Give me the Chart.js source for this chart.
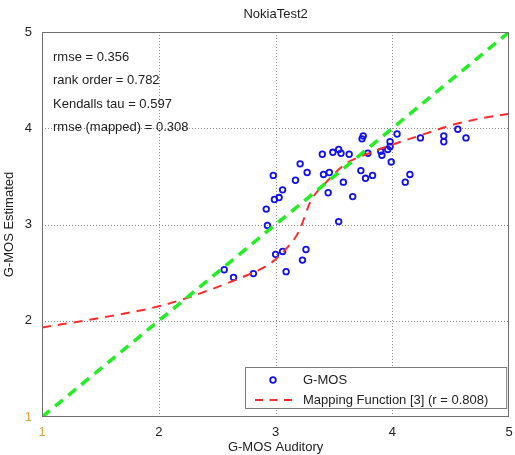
<!DOCTYPE html>
<html>
<head>
<meta charset="utf-8">
<script src="https://cdn.jsdelivr.net/npm/chart.js@4/dist/chart.umd.min.js"></script>
<style>
  html, body { margin: 0; padding: 0; background: #fff; }
  #wrap { width: 515px; height: 455px; }
</style>
</head>
<body>
<div id="wrap"><canvas id="c" width="515" height="455"></canvas></div>
<script>
// G-MOS auditory vs estimated scores
const gmosAuditory = [
  2.56, 2.64, 2.81, 3.00, 3.06, 3.09, 3.23, 3.26, 2.93, 2.92, 2.99, 3.03,
  3.06, 2.98, 3.17, 3.21, 3.27, 3.40, 3.49, 3.54, 3.56, 3.63, 3.41, 3.46,
  3.45, 3.58, 3.66, 3.54, 3.74, 3.75, 3.79, 3.73, 3.77, 3.83, 3.90, 3.91,
  3.96, 3.98, 3.98, 3.99, 4.04, 4.24, 4.44, 4.44, 4.56, 4.63, 4.11, 4.15
];
const gmosEstimated = [
  2.53, 2.45, 2.49, 2.69, 2.72, 2.51, 2.63, 2.74, 2.99, 3.16, 3.26, 3.28,
  3.36, 3.51, 3.46, 3.63, 3.54, 3.73, 3.75, 3.78, 3.74, 3.73, 3.52, 3.54,
  3.33, 3.44, 3.29, 3.03, 3.89, 3.92, 3.74, 3.56, 3.48, 3.51, 3.76, 3.72,
  3.78, 3.86, 3.81, 3.65, 3.94, 3.90, 3.92, 3.86, 3.99, 3.90, 3.44, 3.52
];

// Fitted mapping function, sampled along the auditory axis
const mapX = [1.0, 1.5, 2.0, 2.25, 2.5, 2.75, 2.96, 3.1, 3.2, 3.3, 3.45, 3.6, 3.8, 4.0, 4.25, 4.5, 4.75, 5.0];
const mapY = [1.93, 2.03, 2.15, 2.24, 2.35, 2.47, 2.60, 2.76, 2.93, 3.24, 3.46, 3.63, 3.74, 3.83, 3.93, 4.03, 4.10, 4.15];

// Identity reference line
const identityX = [1, 5];
const identityY = [1, 5];

const tickValues = [1, 2, 3, 4, 5];
const statLines = [
  'rmse = 0.356',
  'rank order = 0.782',
  'Kendalls tau = 0.597',
  'rmse (mapped) = 0.308'
];
const legendLabels = ['G-MOS', 'Mapping Function [3] (r = 0.808)'];
const chartTitle = 'NokiaTest2';

const FONT = 'Arial, "Liberation Sans", sans-serif';
const pts = (xs, ys) => xs.map((x, i) => ({ x, y: ys[i] }));

const framePlugin = {
  id: 'frame',
  beforeDatasetsDraw(chart) {
    const { ctx, chartArea: a, scales } = chart;
    ctx.save();
    ctx.strokeStyle = '#8a8a8a';
    ctx.lineWidth = 1;
    ctx.setLineDash([1, 2]);
    tickValues.forEach(v => {
      if (v === 1 || v === 5) return;
      const px = Math.round(scales.x.getPixelForValue(v)) + 0.5;
      ctx.beginPath(); ctx.moveTo(px, a.top); ctx.lineTo(px, a.bottom); ctx.stroke();
      const py = Math.round(scales.y.getPixelForValue(v)) + 0.5;
      ctx.beginPath(); ctx.moveTo(a.left, py); ctx.lineTo(a.right, py); ctx.stroke();
    });
    ctx.restore();
  },
  afterDatasetsDraw(chart) {
    const { ctx, chartArea: a } = chart;
    ctx.save();
    // axes box
    ctx.strokeStyle = '#6e6e6e';
    ctx.lineWidth = 1;
    ctx.strokeRect(Math.round(a.left) + 0.5, Math.round(a.top) + 0.5,
                   Math.round(a.right - a.left) - 1, Math.round(a.bottom - a.top) - 1);

    // title
    ctx.fillStyle = '#222';
    ctx.font = '13px ' + FONT;
    ctx.textAlign = 'center';
    ctx.textBaseline = 'middle';
    ctx.fillText(chartTitle, (a.left + a.right) / 2, 14);

    // statistics text
    ctx.textAlign = 'left';
    statLines.forEach((s, i) => {
      ctx.fillText(s, a.left + 11, a.top + 25 + i * 23.6);
    });

    // legend
    const lx = a.left + 203, ly = a.bottom - 50, lw = a.right - 3 - lx, lh = 41;
    ctx.fillStyle = '#fff';
    ctx.fillRect(lx, ly, lw, lh);
    ctx.strokeStyle = '#7a7a7a';
    ctx.strokeRect(lx + 0.5, ly + 0.5, lw, lh);
    ctx.strokeStyle = '#1010f0';
    ctx.lineWidth = 1.8;
    ctx.beginPath(); ctx.arc(lx + 28, ly + 13, 2.8, 0, Math.PI * 2); ctx.stroke();
    ctx.strokeStyle = '#ff2a2a';
    ctx.lineWidth = 2;
    ctx.setLineDash([8, 6.5]);
    ctx.beginPath(); ctx.moveTo(lx + 10, ly + 33); ctx.lineTo(lx + 52, ly + 33); ctx.stroke();
    ctx.setLineDash([]);
    ctx.fillStyle = '#222';
    ctx.fillText(legendLabels[0], lx + 58, ly + 13);
    ctx.fillText(legendLabels[1], lx + 58, ly + 33);
    ctx.restore();
  }
};

new Chart(document.getElementById('c'), {
  type: 'scatter',
  data: {
    datasets: [
      {
        label: 'identity',
        data: pts(identityX, identityY),
        showLine: true,
        borderColor: '#22ee22',
        borderWidth: 3.5,
        borderDash: [10, 7],
        pointRadius: 0,
        fill: false,
        order: 0
      },
      {
        label: legendLabels[1],
        data: pts(mapX, mapY),
        showLine: true,
        borderColor: '#ff2a2a',
        borderWidth: 2,
        borderDash: [9, 7],
        cubicInterpolationMode: 'monotone',
        pointRadius: 0,
        fill: false,
        order: 1
      },
      {
        label: legendLabels[0],
        data: pts(gmosAuditory, gmosEstimated),
        borderColor: '#1010f0',
        backgroundColor: 'rgba(0,0,0,0)',
        pointRadius: 2.8,
        pointBorderWidth: 1.8,
        order: 2
      }
    ]
  },
  options: {
    responsive: false,
    animation: false,
    layout: { padding: { top: 32, right: 4, left: 0, bottom: 0 } },
    plugins: { legend: { display: false }, title: { display: false }, tooltip: { enabled: false } },
    scales: {
      x: {
        type: 'linear', min: 1, max: 5,
        afterBuildTicks: s => { s.ticks = tickValues.map(v => ({ value: v })); },
        afterFit: s => { s.height = 38; s.paddingLeft = 0; s.paddingRight = 0; },
        grid: { display: false, drawTicks: false },
        border: { display: false },
        ticks: {
          padding: 8,
          font: { family: FONT, size: 13 },
          color: c => (c.tick && c.tick.value === 1 ? '#dba24a' : '#222')
        },
        title: {
          display: true, text: 'G-MOS Auditory',
          font: { family: FONT, size: 13 }, color: '#222',
          padding: { top: 0, bottom: 0 }
        }
      },
      y: {
        type: 'linear', min: 1, max: 5,
        afterBuildTicks: s => { s.ticks = tickValues.map(v => ({ value: v })); },
        afterFit: s => { s.width = 42; s.paddingTop = 0; s.paddingBottom = 0; },
        grid: { display: false, drawTicks: false },
        border: { display: false },
        ticks: {
          padding: 10,
          font: { family: FONT, size: 13 },
          color: c => (c.tick && c.tick.value === 1 ? '#dba24a' : '#222')
        },
        title: {
          display: true, text: 'G-MOS Estimated',
          font: { family: FONT, size: 13 }, color: '#222',
          padding: { top: 2, bottom: 0 }
        }
      }
    }
  },
  plugins: [framePlugin]
});
</script>
</body>
</html>
